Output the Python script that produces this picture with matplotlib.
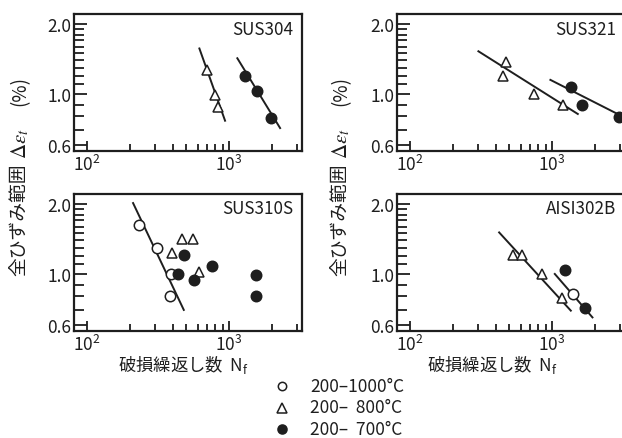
import matplotlib
matplotlib.use("Agg")
import matplotlib.pyplot as plt
from matplotlib.lines import Line2D
from matplotlib.ticker import FixedLocator, NullFormatter, FixedFormatter

plt.rcParams['font.family'] = ['Noto Sans CJK JP', 'DejaVu Sans']
plt.rcParams['mathtext.fontset'] = 'custom'
plt.rcParams['mathtext.rm'] = 'Noto Sans CJK JP'
plt.rcParams['mathtext.it'] = 'Noto Sans CJK JP'

INK = '#1e1e1e'

# --- data: failure cycles N_f and total strain range (%) ---
# SUS304
sus304_tri_n = [696, 796, 841]
sus304_tri_e = [1.27, 0.99, 0.876]
sus304_dot_n = [1297, 1567, 1966]
sus304_dot_e = [1.20, 1.03, 0.79]
sus304_fit_tri_n = [618, 937]
sus304_fit_tri_e = [1.57, 0.767]
sus304_fit_dot_n = [1143, 2286]
sus304_fit_dot_e = [1.425, 0.713]

# SUS321
sus321_tri_n = [450, 474, 750, 1189]
sus321_tri_e = [1.20, 1.37, 1.00, 0.897]
sus321_dot_n = [1361, 1625, 2980]
sus321_dot_e = [1.075, 0.897, 0.798]
sus321_fit_tri_n = [303, 1517]
sus321_fit_tri_e = [1.527, 0.82]
sus321_fit_dot_n = [973, 3300]
sus321_fit_dot_e = [1.15, 0.787]

# SUS310S
sus310_open_n = [232, 311, 393, 386]
sus310_open_e = [1.62, 1.29, 1.0, 0.80]
sus310_tri_n = [399, 469, 557, 615]
sus310_tri_e = [1.23, 1.42, 1.42, 1.02]
sus310_dot_n = [480, 437, 564, 759, 1541, 1541]
sus310_dot_e = [1.21, 1.0, 0.942, 1.086, 0.993, 0.80]
sus310_fit_open_n = [211, 480]
sus310_fit_open_e = [2.02, 0.70]

# AISI302B
aisi_tri_n = [531, 619, 855, 1170]
aisi_tri_e = [1.21, 1.21, 1.0, 0.79]
aisi_open_n = [1393]
aisi_open_e = [0.82]
aisi_dot_n = [1236, 1698]
aisi_dot_e = [1.04, 0.71]
aisi_fit_tri_n = [424, 1355]
aisi_fit_tri_e = [1.51, 0.695]
aisi_fit_2_n = [1045, 1924]
aisi_fit_2_e = [1.0, 0.65]

legend_labels = ['200\u20131000\u00b0C', '200\u2013  800\u00b0C', '200\u2013  700\u00b0C']

fig = plt.figure(figsize=(6.22, 4.39), dpi=100)

W, H = 622, 439
def add_ax(left, top):
    return fig.add_axes([left / W, 1 - (top + 137) / H, 228 / W, 137 / H])

ax1 = add_ax(74, 15)
ax2 = add_ax(397, 15)
ax3 = add_ax(74, 195)
ax4 = add_ax(397, 195)

def style(ax, name, ny=0.89):
    ax.set_xscale('log')
    ax.set_yscale('log')
    ax.set_xlim(81, 3260)
    ax.set_ylim(0.568, 2.21)
    for s in ax.spines.values():
        s.set_linewidth(1.6)
        s.set_color(INK)
    ax.xaxis.set_major_locator(FixedLocator([100, 1000]))
    ax.xaxis.set_major_formatter(FixedFormatter(['10$^2$', '10$^3$']))
    ax.xaxis.set_minor_locator(FixedLocator([200, 300, 400, 500, 600, 700, 800, 900, 2000, 3000]))
    ax.xaxis.set_minor_formatter(NullFormatter())
    ax.yaxis.set_major_locator(FixedLocator([0.6, 1.0, 2.0]))
    ax.yaxis.set_major_formatter(FixedFormatter(['0.6', '1.0', '2.0']))
    ax.yaxis.set_minor_locator(FixedLocator([0.7, 0.8, 0.9, 1.1, 1.2, 1.3, 1.4, 1.5, 1.6, 1.7, 1.8, 1.9]))
    ax.yaxis.set_minor_formatter(NullFormatter())
    ax.tick_params(axis='both', which='both', direction='in', top=False, right=False,
                   color=INK, labelcolor=INK, labelsize=12.5, width=1.3)
    ax.tick_params(axis='x', which='major', length=7, pad=2)
    ax.tick_params(axis='x', which='minor', length=5)
    ax.tick_params(axis='y', which='major', length=9, pad=2)
    ax.tick_params(axis='y', which='minor', length=7)
    ax.text(0.96, ny, name, transform=ax.transAxes, ha='right', va='center',
            fontsize=12.3, color=INK)

mk = dict(ms=7.5, mew=1.1, ls='none', color=INK, clip_on=True)

def tri(ax, n, e):
    ax.plot(n, e, marker='^', mfc='white', **mk)

def dot(ax, n, e):
    ax.plot(n, e, marker='o', mfc=INK, **mk)

def ring(ax, n, e):
    ax.plot(n, e, marker='o', mfc='white', **mk)

def fit(ax, n, e):
    ax.plot(n, e, color=INK, lw=1.4)

style(ax1, 'SUS304')
fit(ax1, sus304_fit_tri_n, sus304_fit_tri_e)
fit(ax1, sus304_fit_dot_n, sus304_fit_dot_e)
tri(ax1, sus304_tri_n, sus304_tri_e)
dot(ax1, sus304_dot_n, sus304_dot_e)

style(ax2, 'SUS321')
fit(ax2, sus321_fit_tri_n, sus321_fit_tri_e)
fit(ax2, sus321_fit_dot_n, sus321_fit_dot_e)
tri(ax2, sus321_tri_n, sus321_tri_e)
dot(ax2, sus321_dot_n, sus321_dot_e)

style(ax3, 'SUS310S', ny=0.9)
fit(ax3, sus310_fit_open_n, sus310_fit_open_e)
ring(ax3, sus310_open_n, sus310_open_e)
tri(ax3, sus310_tri_n, sus310_tri_e)
dot(ax3, sus310_dot_n, sus310_dot_e)

style(ax4, 'AISI302B', ny=0.9)
fit(ax4, aisi_fit_tri_n, aisi_fit_tri_e)
fit(ax4, aisi_fit_2_n, aisi_fit_2_e)
tri(ax4, aisi_tri_n, aisi_tri_e)
ring(ax4, aisi_open_n, aisi_open_e)
dot(ax4, aisi_dot_n, aisi_dot_e)

# shared y titles, drawn in three pieces down the left of each column
for x in (20, 341):
    fig.text(x / W, 1 - 220 / H, '全ひずみ範囲', rotation=90, ha='center', va='center',
             fontsize=13.5, color=INK)
    t = fig.text(x / W, 1 - 144 / H, '$\\mathit{\\Delta\\varepsilon_t}$', rotation=90,
                 ha='center', va='center', fontsize=15, color=INK)
    t.set_math_fontfamily('stix')
    fig.text(x / W, 1 - 91 / H, '(%)', rotation=90, ha='center', va='center',
             fontsize=13.5, color=INK)

xlab = '破損繰返し数  N$_\\mathregular{f}$'
for x in (183, 492):
    fig.text(x / W, 1 - 365 / H, xlab, ha='center', va='center', fontsize=12.5, color=INK)

# legend
legend_marks = [('o', 'white', 6), ('^', 'white', 6.5), ('o', INK, 6.5)]
for i, ((m, fc, ms), lab) in enumerate(zip(legend_marks, legend_labels)):
    y = 1 - (387 + 21.5 * i) / H
    fig.add_artist(Line2D([282 / W], [y], marker=m, mfc=fc, mec=INK, ms=ms, mew=1.1,
                          ls='none', transform=fig.transFigure))
    fig.text(310 / W, y, lab, ha='left', va='center', fontsize=12.5, color=INK)

fig.savefig('out.png', dpi=100)
